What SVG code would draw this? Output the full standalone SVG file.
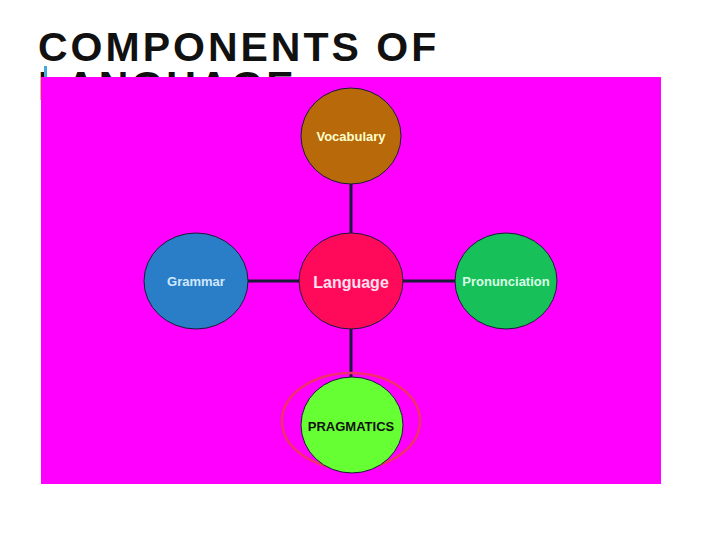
<svg xmlns="http://www.w3.org/2000/svg" width="720" height="540" viewBox="0 0 720 540">
<style>
.t{font-family:"Liberation Sans",Arial,sans-serif;text-anchor:middle;dominant-baseline:central;font-weight:bold}
.h{font-family:"Liberation Sans",Arial,sans-serif;font-size:41px;font-weight:bold;fill:#111;letter-spacing:3px}
.n{stroke:#1a1a3a;stroke-width:1}
.c{stroke:#1a1a3a;stroke-width:3;fill:none}
</style>
<rect width="720" height="540" fill="#ffffff"/>
<text class="h" x="38" y="61">COMPONENTS OF</text>
<text class="h" x="38" y="100">LANGUAGE</text>
<rect x="44" y="66" width="3" height="11" fill="#4aa8d8"/>
<rect x="41" y="77" width="620" height="407" fill="#ff00ff"/>
<g id="connectors">
<line class="c" x1="351" y1="184" x2="351" y2="233"/>
<line class="c" x1="248" y1="281" x2="300" y2="281"/>
<line class="c" x1="402" y1="281" x2="455" y2="281"/>
<line class="c" x1="351" y1="329" x2="351" y2="377"/>
</g>
<g id="vocabulary">
<ellipse class="n" cx="351" cy="136" rx="50" ry="48" fill="#b8690a"/>
<text class="t" x="351" y="136" font-size="13" fill="#ffffcc">Vocabulary</text>
</g>
<g id="grammar">
<ellipse class="n" cx="196" cy="281" rx="52" ry="48" fill="#2a7ec8"/>
<text class="t" x="196" y="281" font-size="13" fill="#cfe8ff">Grammar</text>
</g>
<g id="language">
<ellipse class="n" cx="351" cy="281" rx="52" ry="48" fill="#ff0a5a"/>
<text class="t" x="351" y="282" font-size="16" fill="#ffe0f0">Language</text>
</g>
<g id="pronunciation">
<ellipse class="n" cx="506" cy="281" rx="51" ry="48" fill="#18c05a"/>
<text class="t" x="506" y="281" font-size="13" fill="#d8ffe6">Pronunciation</text>
</g>
<g id="pragmatics">
<ellipse cx="351" cy="421" rx="69" ry="48" fill="none" stroke="#f0306a" stroke-width="2.5"/>
<ellipse class="n" cx="352" cy="425" rx="51" ry="48" fill="#66ff33"/>
<text class="t" x="351" y="426" font-size="13" fill="#111">PRAGMATICS</text>
</g>
</svg>
